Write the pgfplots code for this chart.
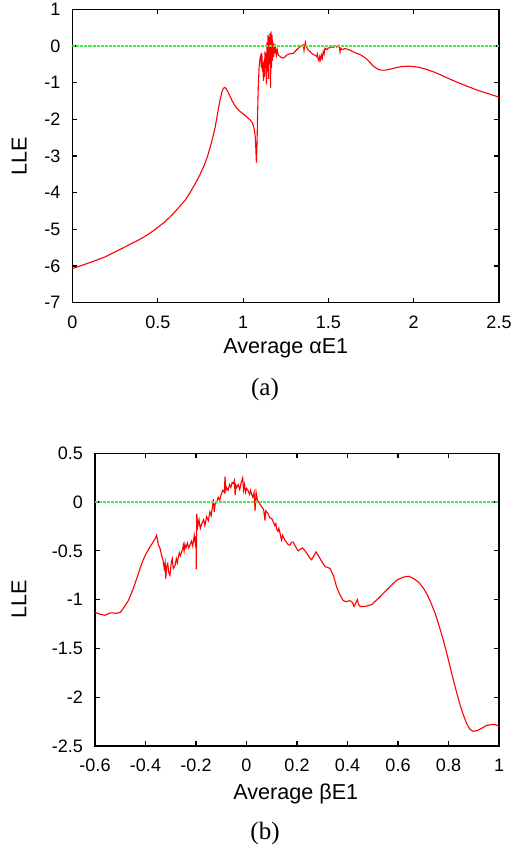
\documentclass[border=0pt]{standalone}
\usepackage{fontspec}
\setmainfont{Liberation Sans}
\newfontfamily\seriffont{Liberation Serif}
\usepackage{pgfplots}
\pgfplotsset{compat=1.18}

\definecolor{gpred}{RGB}{255,0,0}
\definecolor{gpgreen}{RGB}{70,235,70}

\pgfplotsset{
  gp/.style={
    scale only axis,
    anchor=north west,
    axis line style={black, line width=0.7pt},
    tick style={black, line width=0.6pt},
    tick align=inside,
    major tick length=2.5pt,
    xtick pos=both, ytick pos=both,
    tick label style={font=\fontsize{9}{10}\selectfont},
    xticklabel style={yshift=-3pt},
    yticklabel style={xshift=-2.5pt},
    label style={font=\fontsize{10.8}{12}\selectfont},
    /pgf/number format/assume math mode=true,
    clip=true,
  },
  lle/.style={gpred, line width=0.55pt},
  zero/.style={gpgreen, line width=0.65pt, dash pattern=on 1.5pt off 0.5pt},
}

\begin{document}
\begin{tikzpicture}
\useasboundingbox (0,0) rectangle (256.5pt,-424.5pt);

% (a)
\begin{axis}[gp,
  at={(36.25pt,-4.65pt)}, width=213.25pt, height=146.7pt,
  xmin=0, xmax=2.5, ymin=-7, ymax=1,
  xtick={0,0.5,1,1.5,2,2.5}, xticklabels={0,0.5,1,1.5,2,2.5},
  ytick={-7,-6,-5,-4,-3,-2,-1,0,1}, yticklabels={-7,-6,-5,-4,-3,-2,-1,0,1},
  xlabel={Average αE1}, ylabel={LLE},
  xlabel style={at={(axis description cs:0.5,-0.155)}, anchor=center},
  ylabel style={at={(axis description cs:-0.125,0.5)}, anchor=center, rotate=0},
]
\addplot[lle] coordinates {
(0,-6.07) (0.1,-5.91) (0.192,-5.75) (0.29,-5.52) (0.388,-5.29) (0.44,-5.15)
(0.485,-5.00) (0.535,-4.82) (0.583,-4.61) (0.62,-4.42) (0.661,-4.20)
(0.69,-3.99) (0.720,-3.75) (0.745,-3.53) (0.769,-3.29) (0.79,-3.03)
(0.808,-2.75) (0.823,-2.48) (0.837,-2.20) (0.847,-1.93) (0.857,-1.66)
(0.867,-1.43) (0.876,-1.25) (0.884,-1.16) (0.892,-1.13) (0.900,-1.16)
(0.911,-1.25) (0.922,-1.36) (0.935,-1.49) (0.950,-1.61) (0.964,-1.70)
(0.983,-1.79) (1.003,-1.86) (1.020,-1.93) (1.042,-2.02) (1.055,-2.10)
(1.062,-2.20) (1.068,-2.34) (1.072,-2.52) (1.078,-3.18) (1.082,-2.60)
(1.085,-1.84) (1.089,-1.11)
(1.094,-0.56) (1.100,-0.30) (1.104,-0.25) (1.107,-0.60) (1.110,-0.20)
(1.113,-0.70) (1.116,-0.45) (1.119,-0.95) (1.122,-0.40) (1.125,-0.85)
(1.128,-0.15) (1.131,-0.60) (1.134,-0.20) (1.137,-1.05) (1.140,0.10)
(1.143,-0.70) (1.146,0.30) (1.149,-0.90) (1.152,0.25) (1.155,-0.50)
(1.158,0.35) (1.161,-1.15) (1.164,0.40) (1.167,-0.60) (1.170,0.30)
(1.173,-0.40) (1.176,0.10) (1.179,-0.30) (1.182,0.05) (1.186,-0.20)
(1.190,-0.05) (1.195,-0.25) (1.200,-0.10) (1.206,-0.25) (1.215,-0.28)
(1.226,-0.32) (1.235,-0.33) (1.245,-0.30) (1.255,-0.25) (1.270,-0.22)
(1.294,-0.20) (1.315,-0.10) (1.333,-0.02) (1.345,0.02) (1.353,0.03)
(1.357,-0.12) (1.360,-0.02) (1.365,0.10) (1.370,-0.02) (1.382,-0.11)
(1.392,-0.15) (1.402,-0.20) (1.415,-0.24) (1.425,-0.26) (1.431,-0.29)
(1.436,-0.22) (1.440,-0.36) (1.445,-0.41) (1.450,-0.28) (1.455,-0.38)
(1.460,-0.25) (1.465,-0.33) (1.470,-0.15) (1.475,-0.22) (1.480,-0.06)
(1.490,-0.10) (1.500,-0.05) (1.509,-0.05) (1.520,-0.02) (1.530,-0.04)
(1.539,0.01) (1.550,-0.03) (1.560,0.02) (1.565,-0.05) (1.568,-0.16)
(1.572,-0.06) (1.580,-0.10) (1.597,-0.07) (1.620,-0.10) (1.646,-0.16)
(1.670,-0.21) (1.685,-0.23) (1.705,-0.29) (1.725,-0.36) (1.744,-0.45)
(1.765,-0.56) (1.793,-0.64) (1.810,-0.66) (1.832,-0.66) (1.855,-0.64)
(1.880,-0.61) (1.930,-0.56) (1.978,-0.55) (2.030,-0.58) (2.076,-0.64)
(2.125,-0.72) (2.173,-0.82) (2.220,-0.92) (2.271,-1.02) (2.320,-1.11)
(2.369,-1.20) (2.430,-1.29) (2.490,-1.38) (2.500,-1.40)
};
\addplot[zero] coordinates {(0,0) (2.5,0)};
\end{axis}

% (b)
\begin{axis}[gp,
  at={(47.5pt,-226.65pt)}, width=202pt, height=146.35pt,
  xmin=-0.6, xmax=1, ymin=-2.5, ymax=0.5,
  xtick={-0.6,-0.4,-0.2,0,0.2,0.4,0.6,0.8,1},
  xticklabels={-0.6,-0.4,-0.2,0,0.2,0.4,0.6,0.8,1},
  ytick={-2.5,-2,-1.5,-1,-0.5,0,0.5},
  yticklabels={-2.5,-2,-1.5,-1,-0.5,0,0.5},
  xlabel={Average βE1}, ylabel={LLE},
  xlabel style={at={(axis description cs:0.497,-0.162)}, anchor=center},
  ylabel style={at={(axis description cs:-0.188,0.5)}, anchor=center, rotate=0},
]
\addplot[lle] coordinates {
(-0.600,-1.13) (-0.580,-1.15) (-0.560,-1.16) (-0.545,-1.14) (-0.534,-1.135)
(-0.515,-1.14) (-0.500,-1.13) (-0.488,-1.09) (-0.468,-1.01) (-0.455,-0.93)
(-0.442,-0.84) (-0.428,-0.73) (-0.415,-0.63) (-0.402,-0.55) (-0.389,-0.49)
(-0.375,-0.43) (-0.362,-0.375) (-0.356,-0.34) (-0.352,-0.40)
(-0.349,-0.44) (-0.343,-0.47) (-0.336,-0.55) (-0.330,-0.60) (-0.326,-0.68)
(-0.322,-0.62) (-0.320,-0.785) (-0.316,-0.66) (-0.312,-0.63) (-0.308,-0.72)
(-0.303,-0.75) (-0.298,-0.62) (-0.294,-0.58) (-0.290,-0.68) (-0.283,-0.65)
(-0.278,-0.58) (-0.274,-0.62) (-0.270,-0.56) (-0.266,-0.52) (-0.262,-0.55)
(-0.254,-0.49) (-0.250,-0.44) (-0.247,-0.50) (-0.244,-0.43) (-0.240,-0.47)
(-0.234,-0.42) (-0.229,-0.47) (-0.224,-0.44) (-0.218,-0.40) (-0.213,-0.45)
(-0.207,-0.34) (-0.203,-0.42) (-0.200,-0.35) (-0.199,-0.69) (-0.197,-0.12)
(-0.193,-0.25) (-0.188,-0.18) (-0.183,-0.27) (-0.177,-0.22) (-0.170,-0.18)
(-0.165,-0.24) (-0.158,-0.15) (-0.151,-0.19) (-0.145,-0.10) (-0.140,-0.14)
(-0.135,-0.05) (-0.131,0.03) (-0.128,-0.10) (-0.124,-0.02) (-0.118,0.00)
(-0.112,0.05) (-0.106,0.02) (-0.100,0.08) (-0.094,0.12) (-0.088,0.10)
(-0.085,0.26) (-0.082,0.12) (-0.079,0.15) (-0.073,0.12) (-0.067,0.18)
(-0.062,0.15) (-0.057,0.20) (-0.052,0.19) (-0.048,0.22) (-0.045,0.07)
(-0.042,0.17) (-0.039,0.15) (-0.033,0.18) (-0.027,0.13) (-0.021,0.20)
(-0.015,0.25) (-0.012,0.12) (-0.008,0.18) (-0.004,0.10) (0.000,0.14)
(0.006,0.12) (0.012,0.08) (0.016,0.12) (0.020,0.08) (0.025,0.05)
(0.030,0.10) (0.034,-0.09) (0.038,0.10) (0.043,0.02) (0.048,0.00)
(0.053,-0.02) (0.058,-0.04) (0.064,-0.06) (0.068,-0.08) (0.073,-0.19)
(0.076,-0.09) (0.080,-0.10) (0.086,-0.12) (0.092,-0.16) (0.100,-0.17)
(0.106,-0.20) (0.112,-0.24) (0.116,-0.22) (0.120,-0.28) (0.125,-0.30)
(0.128,-0.27) (0.133,-0.32) (0.136,-0.36) (0.139,-0.39) (0.143,-0.34)
(0.148,-0.37) (0.152,-0.39) (0.160,-0.42) (0.167,-0.44) (0.172,-0.44)
(0.179,-0.41) (0.185,-0.41) (0.195,-0.46) (0.205,-0.50) (0.215,-0.48)
(0.222,-0.47) (0.235,-0.51) (0.250,-0.57) (0.258,-0.59) (0.267,-0.55)
(0.275,-0.51) (0.285,-0.55) (0.298,-0.61) (0.311,-0.66) (0.331,-0.68)
(0.345,-0.76) (0.357,-0.87) (0.370,-0.95) (0.383,-1.01) (0.395,-1.02)
(0.410,-1.01) (0.420,-1.03) (0.426,-1.07) (0.433,-1.03) (0.439,-1.00)
(0.444,-1.05) (0.450,-1.07) (0.470,-1.07) (0.496,-1.05) (0.525,-0.98)
(0.555,-0.90) (0.595,-0.80) (0.620,-0.77) (0.641,-0.76) (0.660,-0.78)
(0.681,-0.82) (0.700,-0.88) (0.714,-0.94) (0.730,-1.03) (0.747,-1.14)
(0.763,-1.27) (0.780,-1.42) (0.797,-1.59) (0.813,-1.76) (0.830,-1.93)
(0.846,-2.08) (0.860,-2.19) (0.872,-2.27) (0.885,-2.33) (0.898,-2.35)
(0.915,-2.34) (0.931,-2.32) (0.950,-2.29) (0.971,-2.28) (0.985,-2.28)
(1.000,-2.30)
};
\addplot[zero] coordinates {(-0.6,0) (1,0)};
\end{axis}

\node[font=\seriffont\fontsize{12.5}{14}\selectfont] at (132.5pt,-194.5pt) {(a)};
\node[font=\seriffont\fontsize{12.5}{14}\selectfont] at (132.5pt,-416.5pt) {(b)};
\end{tikzpicture}
\end{document}
